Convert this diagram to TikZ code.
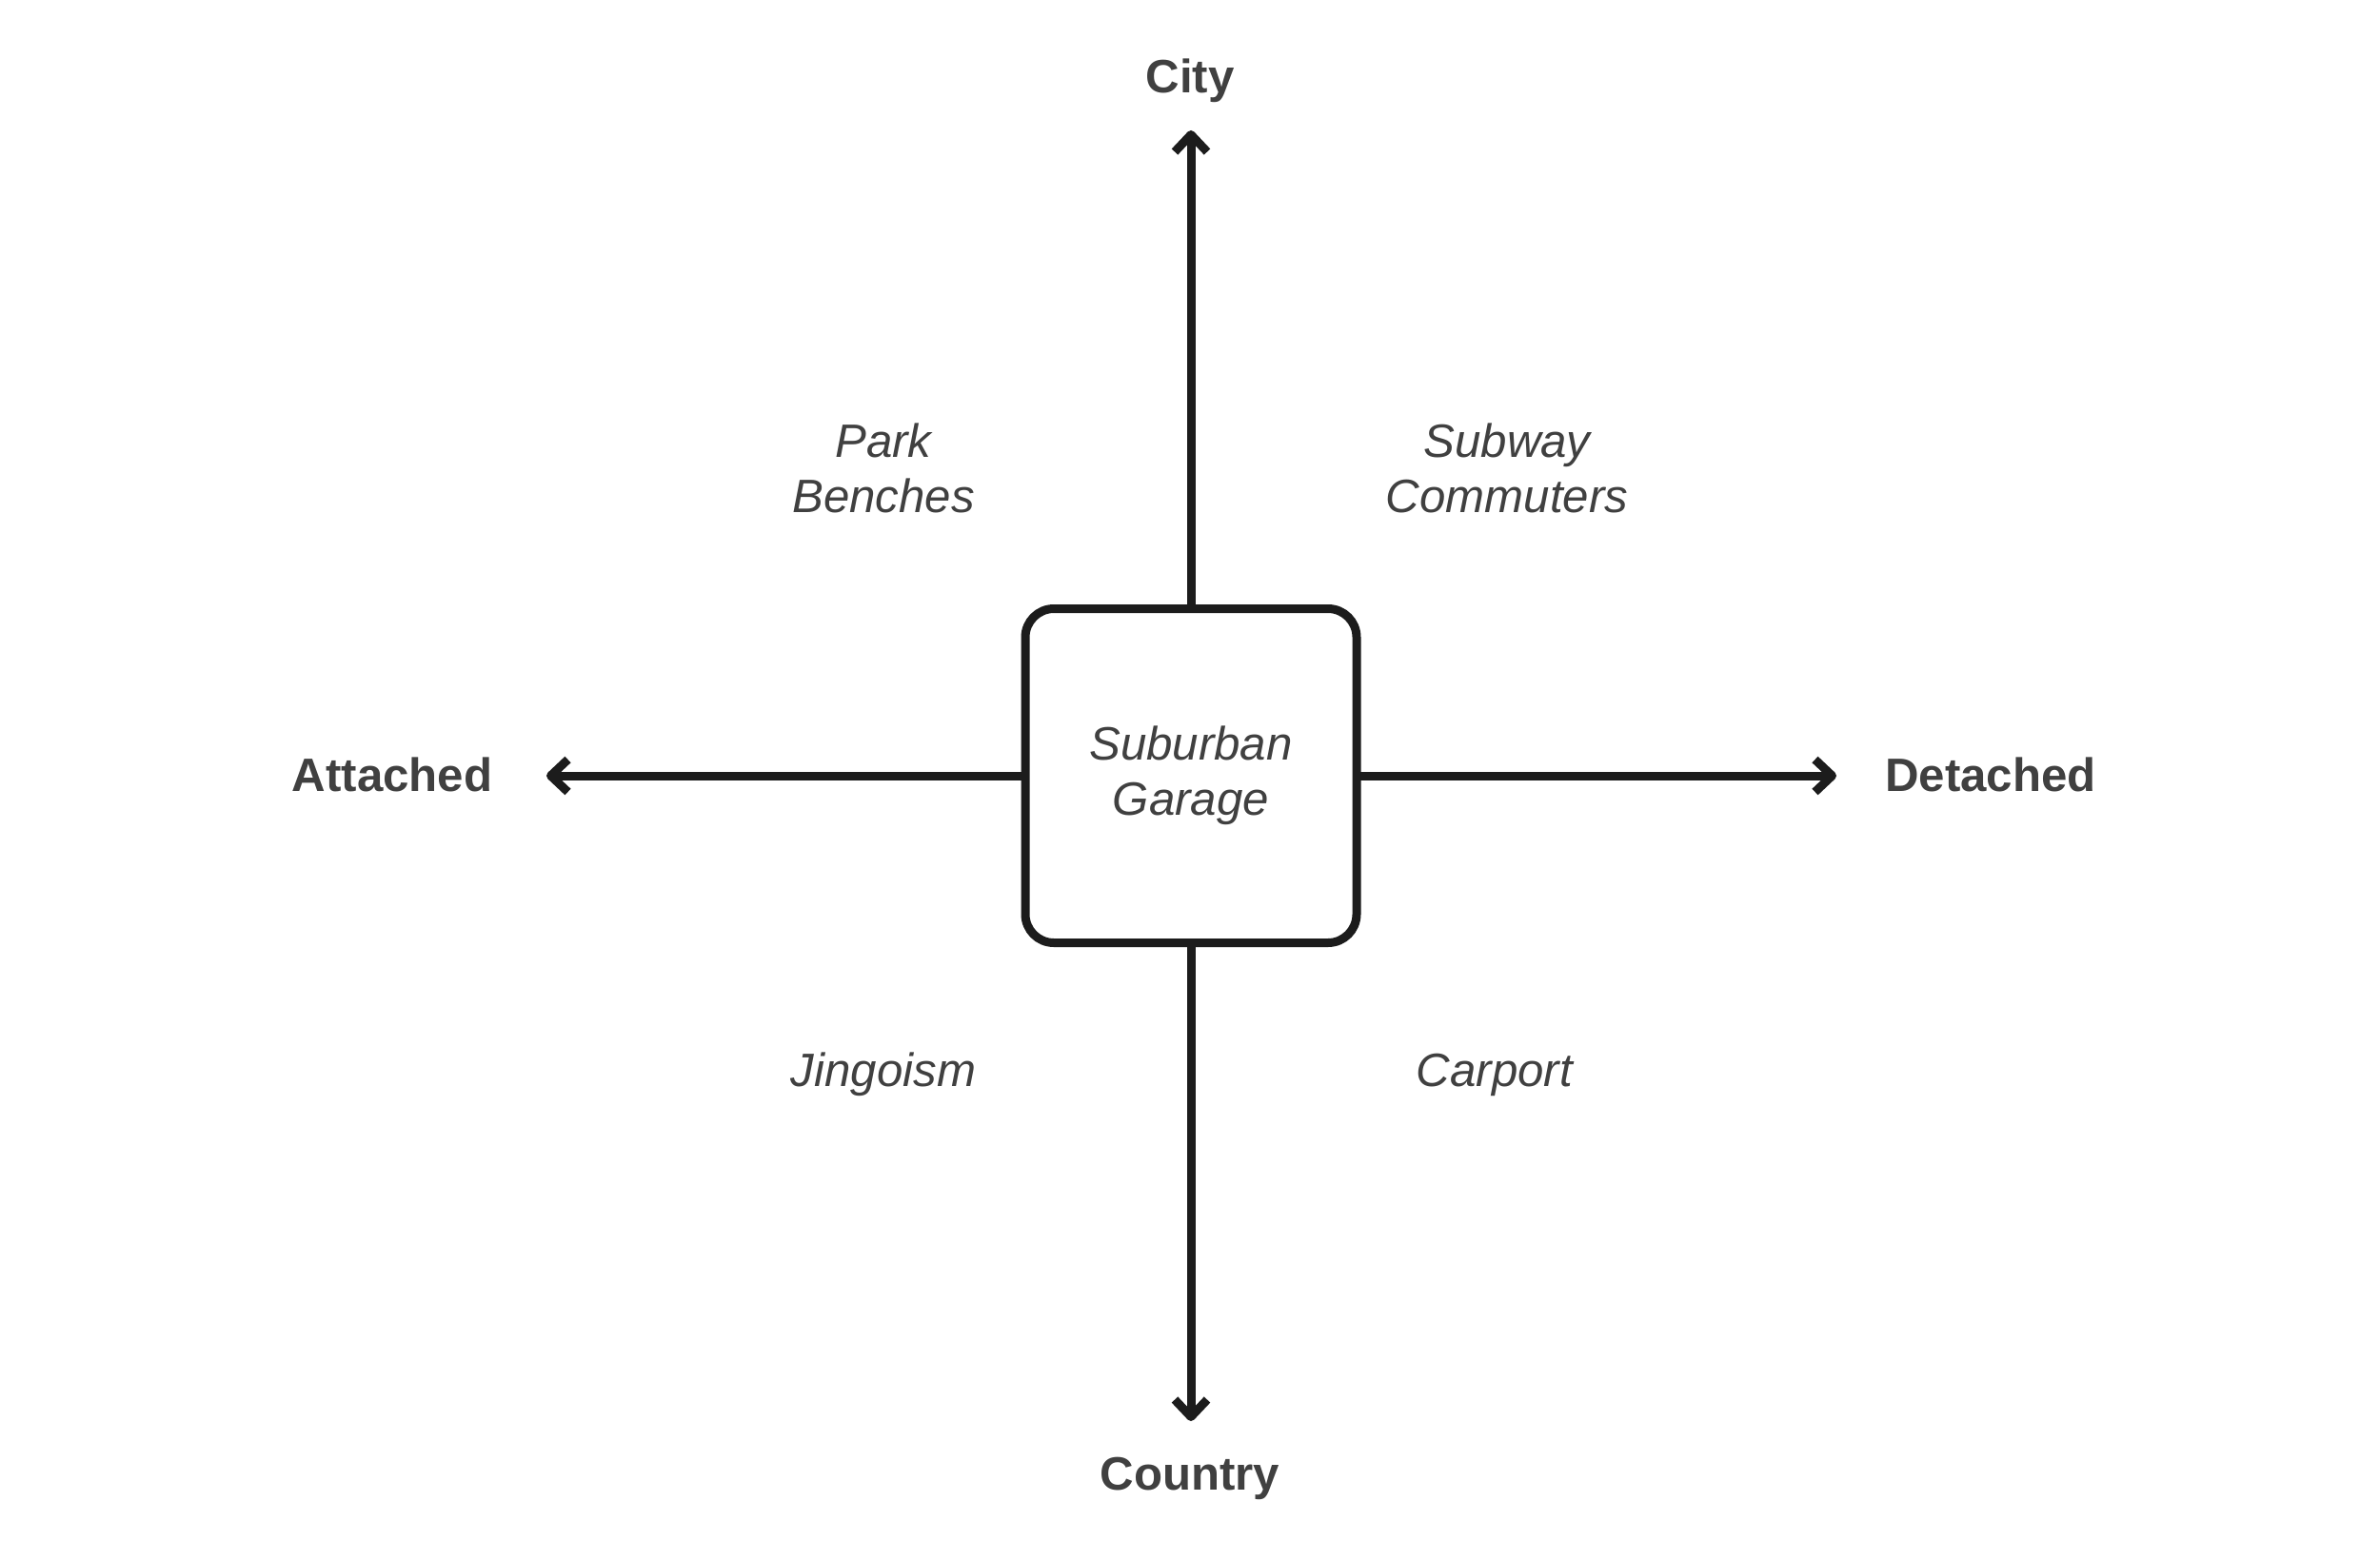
\documentclass[tikz,border=0pt]{standalone}
\usepackage{fontspec}
\setmainfont{Liberation Sans}
\usetikzlibrary{arrows.meta, positioning}

\begin{document}
\begin{tikzpicture}[scale=1, transform shape]
    % Define colors
    \definecolor{borderColour}{HTML}{1C1C1C}
    \definecolor{textColour}{HTML}{404040}

    % Define styles
    \tikzset{
        axisArrow/.style={draw=borderColour, line width=0.09cm, line cap=round,
            -{Straight Barb[length=1.8mm, width=3.4mm, line join=round]}},
        poleLabel/.style={text=textColour, font=\fontsize{14}{16}\selectfont\bfseries, anchor=base},
        quadLabel/.style={text=textColour, font=\fontsize{14}{16.5}\selectfont\itshape, align=center, anchor=base},
        centreBox/.style={draw=borderColour, line width=0.09cm, rounded corners=0.3cm,
            minimum width=3.48cm, minimum height=3.51cm, fill=white}
    }

    % Fix the page size
    \useasboundingbox (0,0) rectangle (25,16.18);

    % Draw centre box
    \node[centreBox, quadLabel, anchor=center] (garage) at (12.51,8.03) {Suburban\\Garage};

    % Define arrow tips
    \coordinate (cityTip) at (12.51,14.81);
    \coordinate (countryTip) at (12.51,1.25);
    \coordinate (attachedTip) at (5.74,8.03);
    \coordinate (detachedTip) at (19.29,8.03);

    % Draw axes
    \draw[axisArrow] (garage.north) -- (cityTip);
    \draw[axisArrow] (garage.south) -- (countryTip);
    \draw[axisArrow] (garage.west) -- (attachedTip);
    \draw[axisArrow] (garage.east) -- (detachedTip);

    % Label ends of axes
    \node[poleLabel] (city) at (12.50,15.20) {City};
    \node[poleLabel] (country) at (12.50,0.53) {Country};
    \node[poleLabel] (attached) at (4.12,7.87) {Attached};
    \node[poleLabel] (detached) at (20.91,7.87) {Detached};

    % Label quadrants (base is the last line)
    \node[quadLabel] (parkBenches) at (9.28,10.80) {Park\\Benches};
    \node[quadLabel] (subway) at (15.83,10.80) {Subway\\Commuters};
    \node[quadLabel] (jingoism) at (9.28,4.77) {Jingoism};
    \node[quadLabel] (carport) at (15.70,4.77) {Carport};

\end{tikzpicture}
\end{document}
